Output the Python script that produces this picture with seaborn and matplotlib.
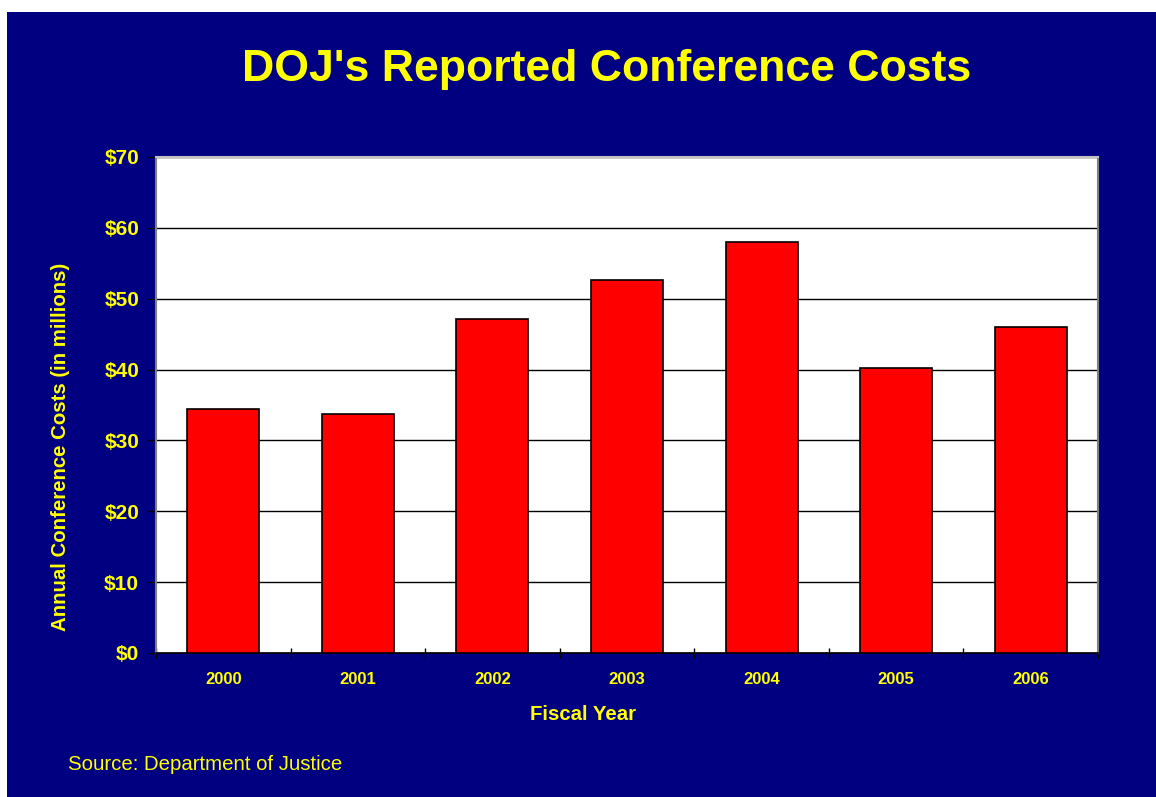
import matplotlib
matplotlib.use("Agg")
import matplotlib.pyplot as plt
import seaborn as sns
import pandas as pd
from matplotlib.patches import Rectangle

years = ["2000", "2001", "2002", "2003", "2004", "2005", "2006"]
costs = [34.4, 33.8, 47.1, 52.7, 58.0, 40.2, 46.0]
yticks = [0, 10, 20, 30, 40, 50, 60, 70]
ytick_labels = ["$0", "$10", "$20", "$30", "$40", "$50", "$60", "$70"]

sns.set_theme(style="white")
plt.rcParams['font.family'] = ['Liberation Sans', 'DejaVu Sans']

W, H = 1156, 797
fig = plt.figure(figsize=(W / 100, H / 100), dpi=100, facecolor="white")
navy = "#000080"
yellow = "#FFFF00"
fig.patches.append(Rectangle((7 / W, 0), 1 - 7 / W, (H - 12) / H,
                             transform=fig.transFigure, facecolor=navy,
                             edgecolor="none", zorder=0))

ax = fig.add_axes([156 / W, (H - 653) / H, (1098 - 156) / W, (653 - 157) / H])
ax.set_zorder(2)
ax.set_facecolor("white")

df = pd.DataFrame({"year": years, "cost": costs})
sns.barplot(data=df, x="year", y="cost", color="#FF0000", saturation=1,
            edgecolor="black", linewidth=1.2, width=0.535, ax=ax, zorder=3)

ax.set_xlim(-0.5, len(years) - 0.5)
ax.set_ylim(0, 70)
ax.set_yticks(yticks)
ax.set_yticklabels(ytick_labels)
ax.yaxis.grid(True, color="black", linewidth=1.0, zorder=1)
ax.set_axisbelow(True)

ax.tick_params(axis="y", which="major", left=True, length=5.8, width=1,
               color="black", direction="out", pad=6.3, labelsize=15,
               labelcolor=yellow)
for lab in ax.get_yticklabels():
    lab.set_fontweight("bold")

ax.set_xticks(range(len(years)))
ax.set_xticklabels(years)
ax.tick_params(axis="x", which="major", bottom=False, length=0, pad=13.5,
               labelsize=12, labelcolor=yellow)
for lab in ax.get_xticklabels():
    lab.set_fontweight("bold")
ax.set_xticks([i - 0.5 for i in range(len(years) + 1)], minor=True)
ax.tick_params(axis="x", which="minor", bottom=True, length=7.5, width=1,
               color="black", direction="inout")

ax.set_xlabel("")
ax.set_ylabel("")

for side in ["left", "right"]:
    ax.spines[side].set_color("#808080")
    ax.spines[side].set_linewidth(1.5)
ax.spines["top"].set_color("#C0C0C0")
ax.spines["top"].set_linewidth(1.5)
ax.spines["bottom"].set_color("black")
ax.spines["bottom"].set_linewidth(1.2)

fig.text(607 / W, 1 - 69 / H, "DOJ's Reported Conference Costs", color=yellow,
         fontsize=32.1, fontweight="bold", ha="center", va="center")
fig.text(583 / W, 1 - 714 / H, "Fiscal Year", color=yellow, fontsize=14.7,
         fontweight="bold", ha="center", va="center")
fig.text(61 / W, 1 - 447 / H, "Annual Conference Costs (in millions)",
         color=yellow, fontsize=14.7, fontweight="bold", ha="center",
         va="center", rotation=90)
fig.text(68 / W, 1 - 765 / H, "Source: Department of Justice", color=yellow,
         fontsize=14.7, ha="left", va="center")

fig.savefig("out.png", dpi=100, facecolor=fig.get_facecolor())
